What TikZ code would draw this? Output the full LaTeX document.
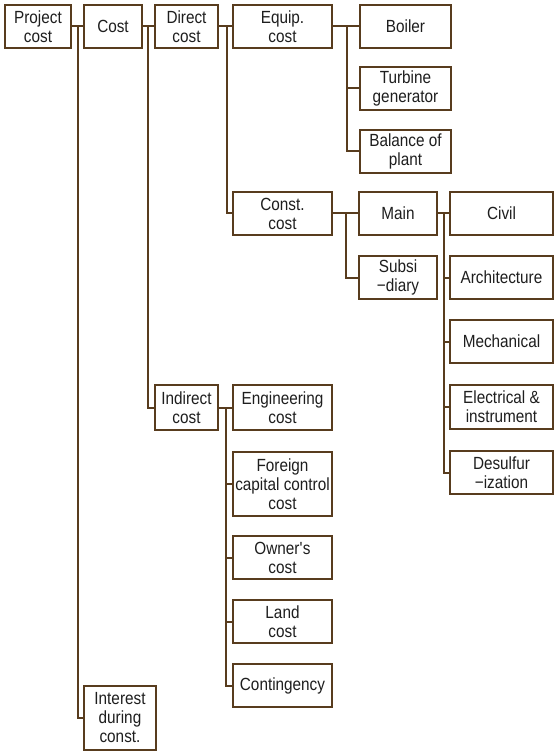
\documentclass[tikz,border=0pt]{standalone}
\usepackage{fontspec}
\setmainfont{Liberation Sans}[FakeStretch=0.87]
\definecolor{brn}{RGB}{88,60,30}
\definecolor{txt}{RGB}{30,30,30}
\tikzset{
  box/.style={draw=brn, line width=2pt, fill=white, align=center, inner sep=1pt,
    minimum height=43pt, text=txt, font=\fontsize{17.6}{19}\selectfont},
  conn/.style={draw=brn, line width=2pt},
}
\begin{document}
\begin{tikzpicture}[x=1pt,y=-1pt]
\useasboundingbox (0,0) rectangle (556,751);
% level 0-2
\node[box, minimum width=66pt] (pc) at (38,26.5) {Project\\cost};
\node[box, minimum width=58pt] (cost) at (113,26.5) {Cost};
\node[box, minimum width=63pt] (dc) at (186.5,26.5) {Direct\\cost};
\node[box, minimum width=63pt, minimum height=45pt] (ic) at (186.5,407.5) {Indirect\\cost};
\node[box, minimum width=72pt, minimum height=64pt] (int) at (120,718) {Interest\\during\\const.};
% equip
\node[box, minimum width=99pt] (ec) at (282.5,26.5) {Equip.\\cost};
\node[box, minimum width=91pt] (boiler) at (405.5,26.5) {Boiler};
\node[box, minimum width=91pt] (tg) at (405.5,88.5) {Turbine\\generator};
\node[box, minimum width=91pt] (bop) at (405.5,151.5) {Balance of\\plant};
% const
\node[box, minimum width=99pt] (cc) at (282.5,213.5) {Const.\\cost};
\node[box, minimum width=78pt] (main) at (398,213.5) {Main};
\node[box, minimum width=78pt] (sub) at (398,277.5) {Subsi\\−diary};
\node[box, minimum width=103pt] (civil) at (501.5,213.5) {Civil};
\node[box, minimum width=103pt] (arch) at (501.5,277.5) {Architecture};
\node[box, minimum width=103pt] (mech) at (501.5,341.5) {Mechanical};
\node[box, minimum width=103pt, minimum height=44pt] (elec) at (501.5,407) {Electrical \&\\instrument};
\node[box, minimum width=103pt] (des) at (501.5,472.5) {Desulfur\\−ization};
% indirect
\node[box, minimum width=99pt, minimum height=45pt] (eng) at (282.5,407.5) {Engineering\\cost};
\node[box, minimum width=99pt, minimum height=64pt] (fcc) at (282.5,484) {Foreign\\capital control\\cost};
\node[box, minimum width=99pt] (own) at (282.5,557.5) {Owner\textquotesingle s\\cost};
\node[box, minimum width=99pt] (land) at (282.5,621.5) {Land\\cost};
\node[box, minimum width=99pt] (cont) at (282.5,685.5) {Contingency};
% trunk coordinates
\coordinate (t1) at (78,0);
\coordinate (t2) at (148,0);
\coordinate (t3) at (227,0);
\coordinate (t4) at (347,0);
\coordinate (t5) at (346,0);
\coordinate (t6) at (444,0);
\coordinate (t7) at (226,0);
% connectors
\draw[conn] (pc.east) -- (cost.west);
\draw[conn] (t1 |- pc.east) |- (int.west);
\draw[conn] (cost.east) -- (dc.west);
\draw[conn] (t2 |- cost.east) |- (ic.west);
\draw[conn] (dc.east) -- (ec.west);
\draw[conn] (t3 |- dc.east) |- (cc.west);
\draw[conn] (ec.east) -- (boiler.west);
\draw[conn] (t4 |- ec.east) |- (tg.west);
\draw[conn] (t4 |- ec.east) |- (bop.west);
\draw[conn] (cc.east) -- (main.west);
\draw[conn] (t5 |- cc.east) |- (sub.west);
\draw[conn] (main.east) -- (civil.west);
\draw[conn] (t6 |- main.east) |- (arch.west);
\draw[conn] (t6 |- main.east) |- (mech.west);
\draw[conn] (t6 |- main.east) |- (elec.west);
\draw[conn] (t6 |- main.east) |- (des.west);
\draw[conn] (ic.east) -- (eng.west);
\draw[conn] (t7 |- ic.east) |- (fcc.west);
\draw[conn] (t7 |- ic.east) |- (own.west);
\draw[conn] (t7 |- ic.east) |- (land.west);
\draw[conn] (t7 |- ic.east) |- (cont.west);
\end{tikzpicture}
\end{document}
